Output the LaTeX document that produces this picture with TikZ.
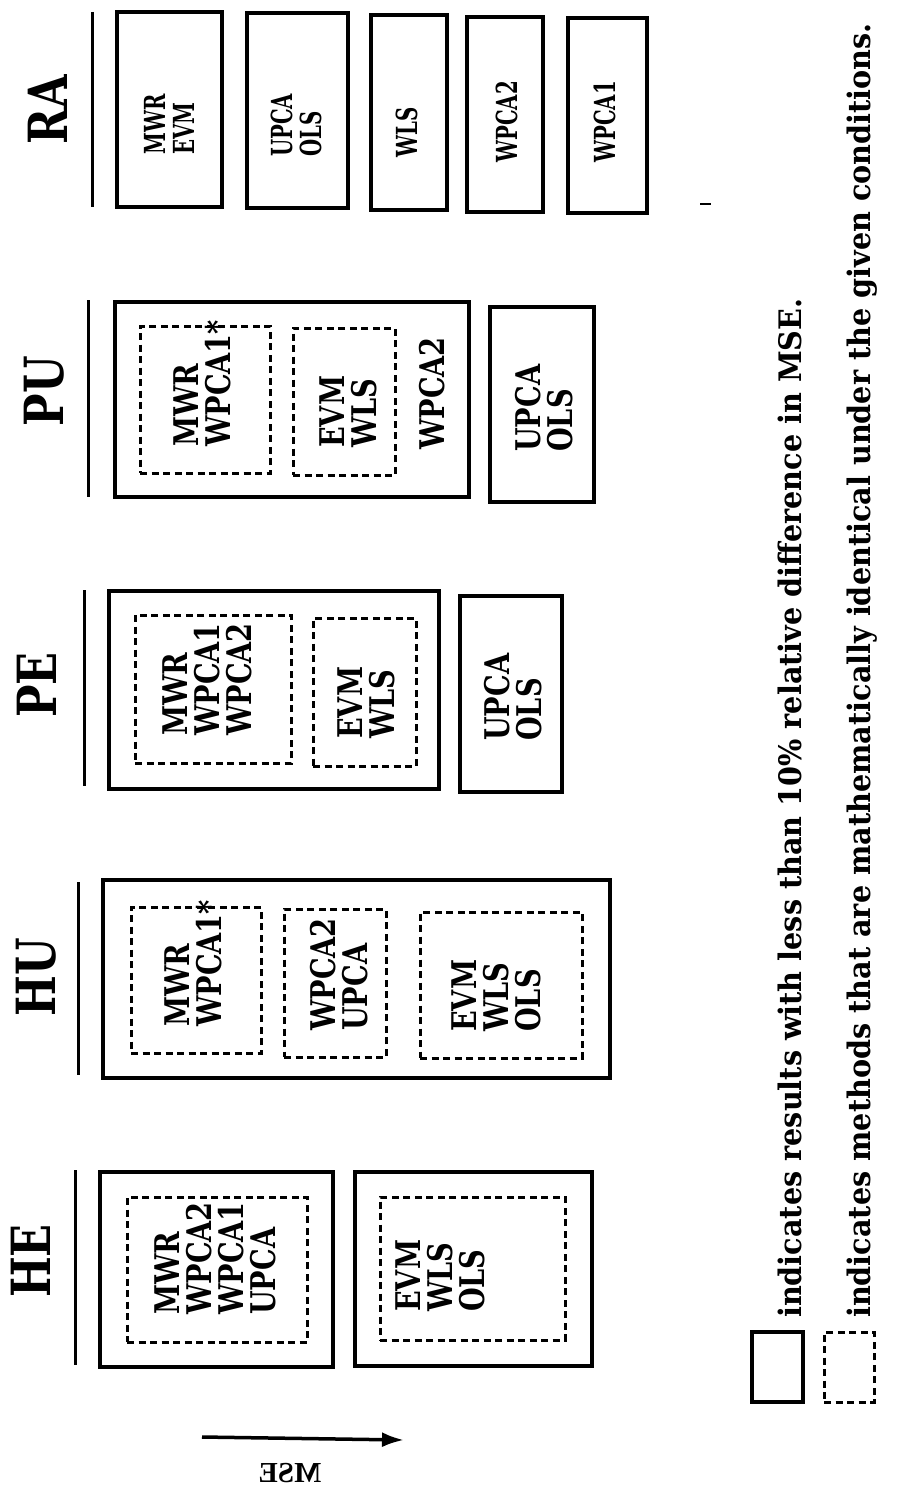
\documentclass[tikz,border=0pt]{standalone}
\usepackage{fontspec}
\newfontfamily\labfam[FakeStretch=0.8]{DejaVu Serif}
\newfontfamily\rafam[FakeStretch=0.68]{DejaVu Serif}
\newfontfamily\legfam[FakeStretch=0.925]{DejaVu Serif}
\newfontfamily\msefam{Liberation Serif}
\usetikzlibrary{arrows.meta,fit}
\tikzset{
  sbox/.style={draw, line width=3.5pt, inner sep=0pt},
  dbox/.style={draw, line width=3pt, dash pattern=on 7pt off 4.5pt, inner sep=0pt},
  lab/.style={rotate=90, anchor=west, inner sep=0pt, align=left,
    font=\labfam\bfseries\fontsize{34}{32}\selectfont},
  ralab/.style={lab, font=\rafam\bfseries\fontsize{29}{29}\selectfont},
  head/.style={rotate=90, inner sep=0pt, font=\labfam\bfseries\fontsize{54}{54}\selectfont},
  hline/.style={line width=3pt},
  leg/.style={rotate=90, anchor=base west, inner sep=0pt,
    font=\legfam\bfseries\fontsize{31}{31}\selectfont},
}
\begin{document}
\begin{tikzpicture}[x=1pt,y=-1pt]
\useasboundingbox (0,0) rectangle (906,1496);
\fill[white] (0,0) rectangle (906,1496);

% ---------- HE ----------
\node[head] (hHE) at (31,1261) {HE};
\coordinate (heLa) at (75,1170); \coordinate (heLb) at (75,1365);
\draw[hline] (heLa) -- (heLb);
\node[sbox, fit={(100,1172) (333,1367)}] (heO1) {};
\node[dbox, fit={(127,1197) (307,1342)}] (heD1) {};
\node[lab] (heT1) at (215.5,1315) {MWR\\WPCA2\\WPCA1\\UPCA};
\node[sbox, fit={(355,1172) (592,1366)}] (heO2) {};
\node[dbox, fit={(380,1197) (565,1340)}] (heD2) {};
\node[lab] (heT2) at (440,1312) {EVM\\WLS\\OLS};

% ---------- HU ----------
\node[head] (hHU) at (36,977) {HU};
\coordinate (huLa) at (78,882); \coordinate (huLb) at (78,1075);
\draw[hline] (huLa) -- (huLb);
\node[sbox, fit={(103,880) (610,1078)}] (huO1) {};
\node[dbox, fit={(131,907) (261,1053)}] (huD1) {};
\node[lab] (huT1) at (193,1027) {MWR\\WPCA1*};
\node[dbox, fit={(284,909) (386,1057)}] (huD2) {};
\node[lab] (huT2) at (339.5,1031) {WPCA2\\UPCA};
\node[dbox, fit={(420,912) (582,1058)}] (huD3) {};
\node[lab] (huT3) at (496.5,1032) {EVM\\WLS\\OLS};

% ---------- PE ----------
\node[head] (hPE) at (37,685) {PE};
\coordinate (peLa) at (84,590); \coordinate (peLb) at (84,786);
\draw[hline] (peLa) -- (peLb);
\node[sbox, fit={(109,591) (439,789)}] (peO1) {};
\node[dbox, fit={(135,615) (291,763)}] (peD1) {};
\node[lab] (peT1) at (207,736) {MWR\\WPCA1\\WPCA2};
\node[dbox, fit={(313,618) (416,766)}] (peD2) {};
\node[lab] (peT2) at (366,739) {EVM\\WLS};
\node[sbox, fit={(460,596) (562,792)}] (peO2) {};
\node[lab] (peT3) at (513,741) {UPCA\\OLS};

% ---------- PU ----------
\node[head] (hPU) at (44,391) {PU};
\coordinate (puLa) at (88,300); \coordinate (puLb) at (88,497);
\draw[hline] (puLa) -- (puLb);
\node[sbox, fit={(115,302) (469,497)}] (puO1) {};
\node[dbox, fit={(140,326) (270,473)}] (puD1) {};
\node[lab] (puT1) at (202,447) {MWR\\WPCA1*};
\node[dbox, fit={(293,328) (395,475)}] (puD2) {};
\node[lab] (puT2) at (348,448) {EVM\\WLS};
\node[lab] (puT3) at (432,450) {WPCA2};
\node[sbox, fit={(490,307) (594,502)}] (puO2) {};
\node[lab] (puT4) at (544,452) {UPCA\\OLS};

% ---------- RA ----------
\node[head] (hRA) at (48,110) {RA};
\coordinate (raLa) at (92,12); \coordinate (raLb) at (92,207);
\draw[hline] (raLa) -- (raLb);
\node[sbox, fit={(117,12) (222,207)}] (raO1) {};
\node[ralab] (raT1) at (169.5,155) {MWR\\EVM};
\node[sbox, fit={(247,13) (348,208)}] (raO2) {};
\node[ralab] (raT2) at (296,157) {UPCA\\OLS};
\node[sbox, fit={(371,15) (447,210)}] (raO3) {};
\node[ralab] (raT3) at (407,158) {WLS};
\node[sbox, fit={(467,17) (543,212)}] (raO4) {};
\node[ralab] (raT4) at (507,163) {WPCA2};
\node[sbox, fit={(568,18) (647,213)}] (raO5) {};
\node[ralab] (raT5) at (605,163) {WPCA1};

% small mark
\coordinate (mkA) at (700,204); \coordinate (mkB) at (711,204);
\draw[line width=2.5pt] (mkA) -- (mkB);

% ---------- MSE arrow ----------
\coordinate (arS) at (202,1437); \coordinate (arE) at (404,1440);
\draw[line width=3.5pt, -{Latex[length=22pt,width=15pt]}] (arS) -- (arE);
\node[xscale=-1, inner sep=0pt, font=\msefam\bfseries\fontsize{29}{29}\selectfont] (mse) at (290,1473) {MSE};

% ---------- legend ----------
\node[sbox, fit={(752,1332) (803,1402)}] (lgS) {};
\node[dbox, fit={(824,1332) (874,1402)}] (lgD) {};
\node[leg] (lgT1) at (801,1318) {indicates results with less than 10\% relative difference in MSE.};
\node[leg] (lgT2) at (870,1318) {indicates methods that are mathematically identical under the given conditions.};
\end{tikzpicture}
\end{document}
